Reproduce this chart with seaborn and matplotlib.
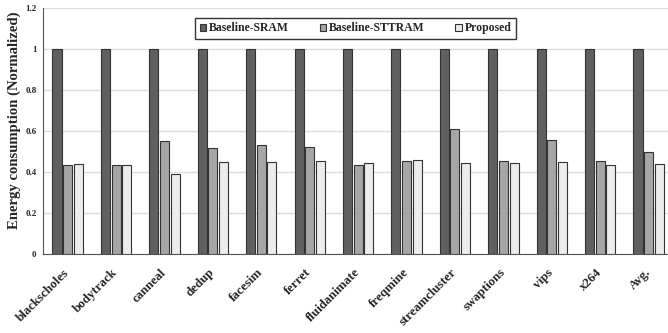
import pandas as pd
import numpy as np
import matplotlib
matplotlib.use('Agg')
import matplotlib.pyplot as plt
import seaborn as sns

benchmarks = ['blackscholes', 'bodytrack', 'canneal', 'dedup', 'facesim', 'ferret',
              'fluidanimate', 'freqmine', 'streamcluster', 'swaptions', 'vips', 'x264', 'Avg.']
sram = [1.0] * 13
sttram = [0.433, 0.436, 0.55, 0.518, 0.534, 0.521, 0.435, 0.456, 0.609, 0.454, 0.557, 0.453, 0.497]
proposed = [0.44, 0.433, 0.389, 0.451, 0.45, 0.454, 0.443, 0.459, 0.445, 0.446, 0.448, 0.435, 0.44]
schemes = ['Baseline-SRAM', 'Baseline-STTRAM', 'Proposed']
colors = ['#606060', '#a6a6a6', '#ececec']

df = pd.DataFrame({
    'bench': benchmarks * 3,
    'scheme': np.repeat(schemes, len(benchmarks)),
    'energy': sram + sttram + proposed,
})

sns.set_style('white')
plt.rcParams['font.family'] = ['Liberation Serif', 'DejaVu Serif']

fig = plt.figure(figsize=(6.68, 3.33), dpi=100)
ax = fig.add_axes([0.065, 0.237, 0.935, 0.739])

sns.barplot(data=df, x='bench', y='energy', hue='scheme', palette=colors,
            width=0.66, gap=0.15, edgecolor='#333333', linewidth=0.8,
            ax=ax, zorder=3)

ax.set_ylim(0, 1.2)
ax.set_yticks(np.arange(0, 1.21, 0.2))
ax.set_yticklabels(['0', '0.2', '0.4', '0.6', '0.8', '1', '1.2'], fontsize=6.5, fontweight='bold')
ax.yaxis.grid(True, color='#dcdcdc', linewidth=1, zorder=0)
ax.set_axisbelow(True)
ax.set_xlim(-0.5, 12.4)

ax.set_xticks(range(len(benchmarks)))
ax.set_xticklabels(benchmarks, rotation=45, ha='right', va='center',
                   rotation_mode='anchor', fontsize=9.3, fontweight='bold')
ax.set_xticks(np.arange(-0.5, 12.5, 1), minor=True)
ax.tick_params(axis='x', which='major', length=0, pad=12)
ax.tick_params(axis='x', which='minor', length=7, direction='inout', color='#555555')
ax.tick_params(axis='y', length=3, direction='out', color='#555555', pad=2)

ax.set_xlabel('')
ax.set_ylabel('Energy consumption (Normalized)', fontsize=10.6, fontweight='bold')
ax.yaxis.set_label_coords(-0.036, 0.543)

for s in ['top', 'right']:
    ax.spines[s].set_visible(False)
for s in ['left', 'bottom']:
    ax.spines[s].set_color('#555555')

leg = ax.legend(loc='upper center', bbox_to_anchor=(0.5, 0.985), ncol=3, frameon=True,
                fancybox=False, edgecolor='black', handlelength=0.55,
                handleheight=0.55, handletextpad=0.25, columnspacing=2.6,
                borderpad=0.4, prop={'weight': 'bold', 'size': 8.5})
leg.get_frame().set_linewidth(1.0)

fig.savefig('out.png', dpi=100)
